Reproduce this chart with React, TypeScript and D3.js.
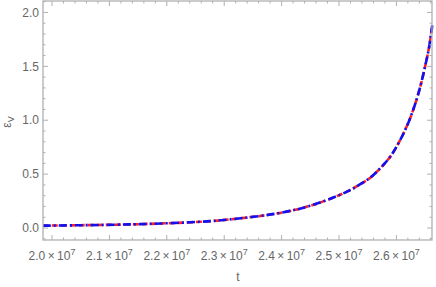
import React, { useEffect, useRef } from 'react';
import * as d3 from 'd3';

// t in units of 1e7
const tValues = [1.984, 2.05, 2.153, 2.258, 2.31, 2.397, 2.455, 2.513, 2.535, 2.554, 2.571, 2.589, 2.606, 2.621, 2.632, 2.641, 2.65, 2.657, 2.6624];
const epsValues = [0.022, 0.026, 0.036, 0.058, 0.08, 0.14, 0.215, 0.335, 0.4, 0.465, 0.55, 0.66, 0.81, 0.98, 1.14, 1.3, 1.5, 1.68, 1.88];

const xMajor = [2.0, 2.1, 2.2, 2.3, 2.4, 2.5, 2.6];
const xMinor = d3.range(1.98, 2.665, 0.02);
const yMajor = [0.0, 0.5, 1.0, 1.5, 2.0];
const yMinor = d3.range(-0.1, 2.11, 0.1);

const W = 436;
const H = 287;

export default function App() {
  const svgRef = useRef<SVGSVGElement>(null);

  useEffect(() => {
    if (!svgRef.current) return;
    const svg = d3.select(svgRef.current);
    svg.selectAll('*').remove();

    const left = 43, right = 432, top = 1, bottom = 240;
    const x = d3.scaleLinear().domain([1.9843, 2.662]).range([left, right]);
    const y = d3.scaleLinear().domain([-0.111, 2.106]).range([bottom, top]);

    const frameColor = '#b0b0b0';
    const textColor = '#666';
    const font = '"Liberation Sans", Arial, sans-serif';

    const data = tValues.map((t, i) => ({ t, v: epsValues[i] }));
    const line = d3.line<{ t: number; v: number }>()
      .x(d => x(d.t))
      .y(d => y(d.v))
      .curve(d3.curveCatmullRom.alpha(0.5));

    const clip = svg.append('clipPath').attr('id', 'plotclip');
    clip.append('rect').attr('x', left).attr('y', top).attr('width', right - left + 2).attr('height', bottom - top);

    const plot = svg.append('g').attr('clip-path', 'url(#plotclip)');
    plot.append('path')
      .datum(data)
      .attr('fill', 'none')
      .attr('stroke', '#ff2020')
      .attr('stroke-width', 2.6)
      .attr('stroke-dasharray', '6,3')
      .attr('d', line);
    plot.append('path')
      .datum(data)
      .attr('fill', 'none')
      .attr('stroke', '#1010f0')
      .attr('stroke-width', 2.6)
      .attr('stroke-dasharray', '8,3,2,3')
      .attr('d', line);

    // ticks
    const ticks = svg.append('g').attr('stroke', frameColor).attr('stroke-width', 1);
    xMinor.forEach(v => {
      if (x(v) < left || x(v) > right) return;
      const major = xMajor.some(m => Math.abs(m - v) < 1e-6);
      const len = major ? 5 : 2.5;
      ticks.append('line').attr('x1', x(v)).attr('x2', x(v)).attr('y1', bottom).attr('y2', bottom - len);
      ticks.append('line').attr('x1', x(v)).attr('x2', x(v)).attr('y1', top).attr('y2', top + len);
    });
    yMinor.forEach(v => {
      if (y(v) < top || y(v) > bottom) return;
      const major = yMajor.some(m => Math.abs(m - v) < 1e-6);
      const len = major ? 5 : 2.5;
      ticks.append('line').attr('y1', y(v)).attr('y2', y(v)).attr('x1', left).attr('x2', left + len);
      ticks.append('line').attr('y1', y(v)).attr('y2', y(v)).attr('x1', right).attr('x2', right - len);
    });

    // frame
    svg.append('rect')
      .attr('x', left).attr('y', top)
      .attr('width', right - left).attr('height', bottom - top)
      .attr('fill', 'none')
      .attr('stroke', frameColor)
      .attr('stroke-width', 1.3);

    // y labels
    yMajor.forEach(v => {
      svg.append('text')
        .attr('x', left - 4)
        .attr('y', y(v))
        .attr('dy', '0.35em')
        .attr('text-anchor', 'end')
        .attr('font-family', font)
        .attr('font-size', 12)
        .attr('fill', textColor)
        .text(d3.format('.1f')(v));
    });

    // x labels
    xMajor.forEach(v => {
      const tx = svg.append('text')
        .attr('x', x(v))
        .attr('y', 260)
        .attr('text-anchor', 'middle')
        .attr('font-family', font)
        .attr('font-size', 12)
        .attr('fill', textColor);
      tx.append('tspan').text(`${d3.format('.1f')(v)}\u2009×\u200910`);
      tx.append('tspan').attr('dy', -5).attr('font-size', 9).text('7');
    });

    svg.append('text')
      .attr('x', 238)
      .attr('y', 281)
      .attr('text-anchor', 'middle')
      .attr('font-family', font)
      .attr('font-size', 12)
      .attr('fill', textColor)
      .text('t');

    const yl = svg.append('text')
      .attr('transform', `translate(11,122) rotate(-90)`)
      .attr('text-anchor', 'middle')
      .attr('font-family', font)
      .attr('font-size', 12)
      .attr('fill', textColor);
    yl.append('tspan').text('ε');
    yl.append('tspan').attr('dy', 3).attr('font-size', 9).text('V');
  }, []);

  return (
    <div style={{ position: 'absolute', left: 0, top: 0 }}>
      <svg ref={svgRef} width={W} height={H} style={{ display: 'block', background: '#fff' }} />
    </div>
  );
}
